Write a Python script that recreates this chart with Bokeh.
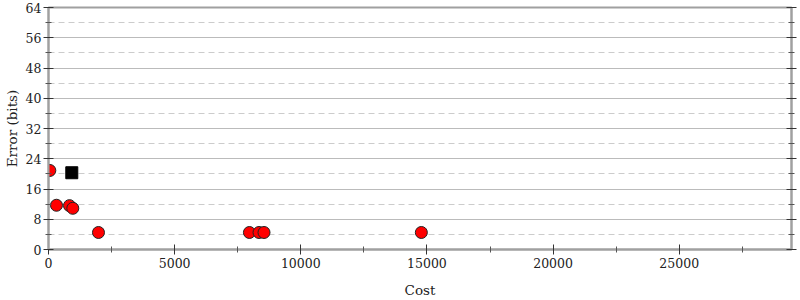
from bokeh.plotting import figure
from bokeh.models import FixedTicker, LinearAxis, Range1d
from bokeh.embed import file_html
from bokeh.resources import INLINE

cost = [52, 317, 832, 963, 1981, 7964, 8344, 8542, 14778]
error_bits = [20.9, 11.7, 11.6, 10.9, 4.5, 4.5, 4.5, 4.5, 4.5]
best_cost = [923]
best_error = [20.3]

x_ticks = [0, 5000, 10000, 15000, 20000, 25000]
x_minor = [2500, 7500, 12500, 17500, 22500, 27500]
y_ticks = [0, 8, 16, 24, 32, 40, 48, 56, 64]
y_minor = [4, 12, 20, 28, 36, 44, 52, 60]

FONT = "DejaVu Serif"
AXIS_C = "#a0a0a0"
TEXT_C = "#222222"

p = figure(width=800, height=300, output_backend="svg", toolbar_location=None,
           x_range=Range1d(0, 29450), y_range=Range1d(0, 64),
           x_axis_label="Cost", y_axis_label="Error (bits)")
p.min_border_left = 40
p.min_border_right = 9
p.min_border_top = 7
p.min_border_bottom = 50
p.outline_line_color = AXIS_C
p.outline_line_width = 2
p.background_fill_color = "white"
p.border_fill_color = "white"

p.xaxis.ticker = FixedTicker(ticks=x_ticks, minor_ticks=x_minor)
p.yaxis.ticker = FixedTicker(ticks=y_ticks, minor_ticks=y_minor)

right = LinearAxis(ticker=FixedTicker(ticks=y_ticks, minor_ticks=y_minor))
right.major_label_text_font_size = "0px"
right.major_label_text_color = None
p.add_layout(right, "right")

for ax in p.axis:
    ax.axis_line_color = AXIS_C
    ax.axis_line_width = 2
    ax.major_tick_line_color = "#333333"
    ax.minor_tick_line_color = "#555555"
    ax.major_tick_in = 5
    ax.major_tick_out = 5
    ax.minor_tick_in = 3
    ax.minor_tick_out = 3
    ax.major_label_text_font = FONT
    ax.axis_label_text_font = FONT
    ax.axis_label_text_font_style = "normal"
    ax.axis_label_text_color = TEXT_C

for ax in (p.xaxis[0], p.yaxis[0]):
    ax.major_label_text_font_size = "12.5px"
    ax.major_label_text_color = TEXT_C
    ax.axis_label_text_font_size = "13.5px"

p.xaxis[0].axis_label_standoff = 11
p.yaxis[0].axis_label_standoff = 3
p.yaxis[0].major_label_standoff = 2
p.xaxis[0].major_label_standoff = 3

p.xgrid.grid_line_color = None
p.ygrid.grid_line_color = "#bbbbbb"
p.ygrid.grid_line_width = 1
p.ygrid.minor_grid_line_color = "#cccccc"
p.ygrid.minor_grid_line_dash = "6 4"

p.scatter(cost, error_bits, marker="circle", size=12, fill_color="red",
          line_color="#222222", line_width=1)
p.scatter(best_cost, best_error, marker="square", size=12, fill_color="black",
          line_color="black")

open("out.html", "w").write(file_html(p, INLINE))
